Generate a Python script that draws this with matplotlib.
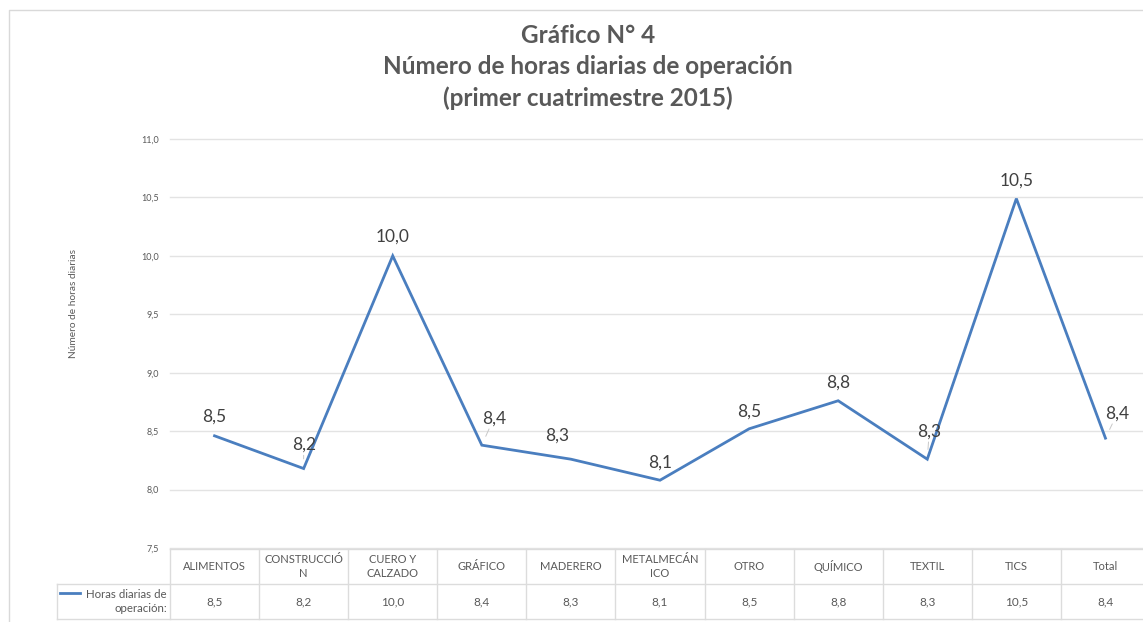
import matplotlib
matplotlib.use("Agg")
import matplotlib.pyplot as plt
import matplotlib.transforms as mtransforms
from matplotlib.lines import Line2D

plt.rcParams['font.family'] = ['Lato', 'DejaVu Sans']

# data
categories = ['ALIMENTOS', 'CONSTRUCCIÓ\nN', 'CUERO Y\nCALZADO', 'GRÁFICO', 'MADERERO',
              'METALMECÁN\nICO', 'OTRO', 'QUÍMICO', 'TEXTIL', 'TICS', 'Total']
hours = [8.46, 8.18, 10.0, 8.38, 8.26, 8.08, 8.52, 8.76, 8.26, 10.49, 8.44]
series_name = 'Horas diarias de\noperación:'
y_ticks = [7.5, 8.0, 8.5, 9.0, 9.5, 10.0, 10.5, 11.0]

# label offsets in pixels (dx, dy) and whether a leader line is drawn
label_offsets = [(0, 19), (0, 24), (0, 19), (12, 27), (-14, 24), (0, 18),
                 (0, 17), (0, 18), (2, 28), (0, 18), (12, 25)]
leaders = [False, True, False, True, False, False, False, False, True, False, True]

W, H = 1143, 622
fig = plt.figure(figsize=(W / 100, H / 100), dpi=100)
# pixel coordinates, origin top-left
pix = mtransforms.Affine2D().scale(1 / W, -1 / H).translate(0, 1) + fig.transFigure

left, right, top, bottom = 170, 1150, 139, 548
ax = fig.add_axes([left / W, (H - bottom) / H, (right - left) / W, (bottom - top) / H])

blue = '#4a7ebf'
grey_txt = '#595959'
grid_c = '#e3e3e3'

x = list(range(len(categories)))
ax.plot(x, hours, color=blue, lw=2.0, solid_joinstyle='miter', zorder=3)
ax.set_xlim(-0.5, len(categories) - 0.5)
ax.set_ylim(7.5, 11.0)
ax.set_yticks(y_ticks)
ax.set_yticklabels([f'{v:.1f}'.replace('.', ',') for v in y_ticks], fontsize=6.5, color=grey_txt)
ax.tick_params(axis='y', length=0, pad=8)
ax.set_xticks([])
for s in ax.spines.values():
    s.set_visible(False)
for v in y_ticks:
    ax.axhline(v, color=grid_c, lw=1, zorder=1, clip_on=False)

for i, v in enumerate(hours):
    dx, dy = label_offsets[i]
    props = dict(arrowstyle='-', color='#c8c8c8', lw=0.7, shrinkA=0, shrinkB=7) if leaders[i] else None
    ax.annotate(f'{v:.1f}'.replace('.', ','), (i, v), xytext=(dx, dy), textcoords='offset pixels',
                ha='center', va='center', fontsize=12.5, color='#404040', arrowprops=props)

fig.text(73, 303, 'Número de horas diarias', transform=pix, rotation=90,
         ha='center', va='center', fontsize=7.3, color=grey_txt)

# data table below the plot
tb = mtransforms.blended_transform_factory(ax.transData, pix)
row1, row2, row3 = 549, 584, 619
n = len(categories)
line_kw = dict(color='#dcdcdc', lw=1, clip_on=False)
fig.add_artist(Line2D([-0.5, n - 0.5], [row1, row1], transform=tb, **line_kw))
fig.add_artist(Line2D([57, W], [row2, row2], transform=pix, **line_kw))
fig.add_artist(Line2D([57, W], [row3, row3], transform=pix, **line_kw))
fig.add_artist(Line2D([57, 57], [row2, row3], transform=pix, **line_kw))
for k in range(n + 1):
    fig.add_artist(Line2D([k - 0.5, k - 0.5], [row1, row3], transform=tb, **line_kw))
for i, (c, v) in enumerate(zip(categories, hours)):
    fig.text(i, (row1 + row2) / 2, c, transform=tb, ha='center', va='center',
             fontsize=8, color=grey_txt, linespacing=1.25)
    fig.text(i, (row2 + row3) / 2, f'{v:.1f}'.replace('.', ','), transform=tb, ha='center',
             va='center', fontsize=8.5, color=grey_txt)
fig.add_artist(Line2D([60, 80], [593, 593], transform=pix, color=blue, lw=2))
fig.text(167, (row2 + row3) / 2, series_name, transform=pix, ha='right', va='center',
         fontsize=8.3, color=grey_txt, linespacing=1.25)

# title
fig.text(588, 67, 'Gráfico N° 4\nNúmero de horas diarias de operación\n(primer cuatrimestre 2015)',
         transform=pix, ha='center', va='center', fontsize=17.5, fontweight='bold',
         color=grey_txt, linespacing=1.45)

# chart border
fig.add_artist(Line2D([9, 9, W], [H, 10, 10], transform=pix, color='#d9d9d9', lw=1))

fig.savefig('out.png', dpi=100)
